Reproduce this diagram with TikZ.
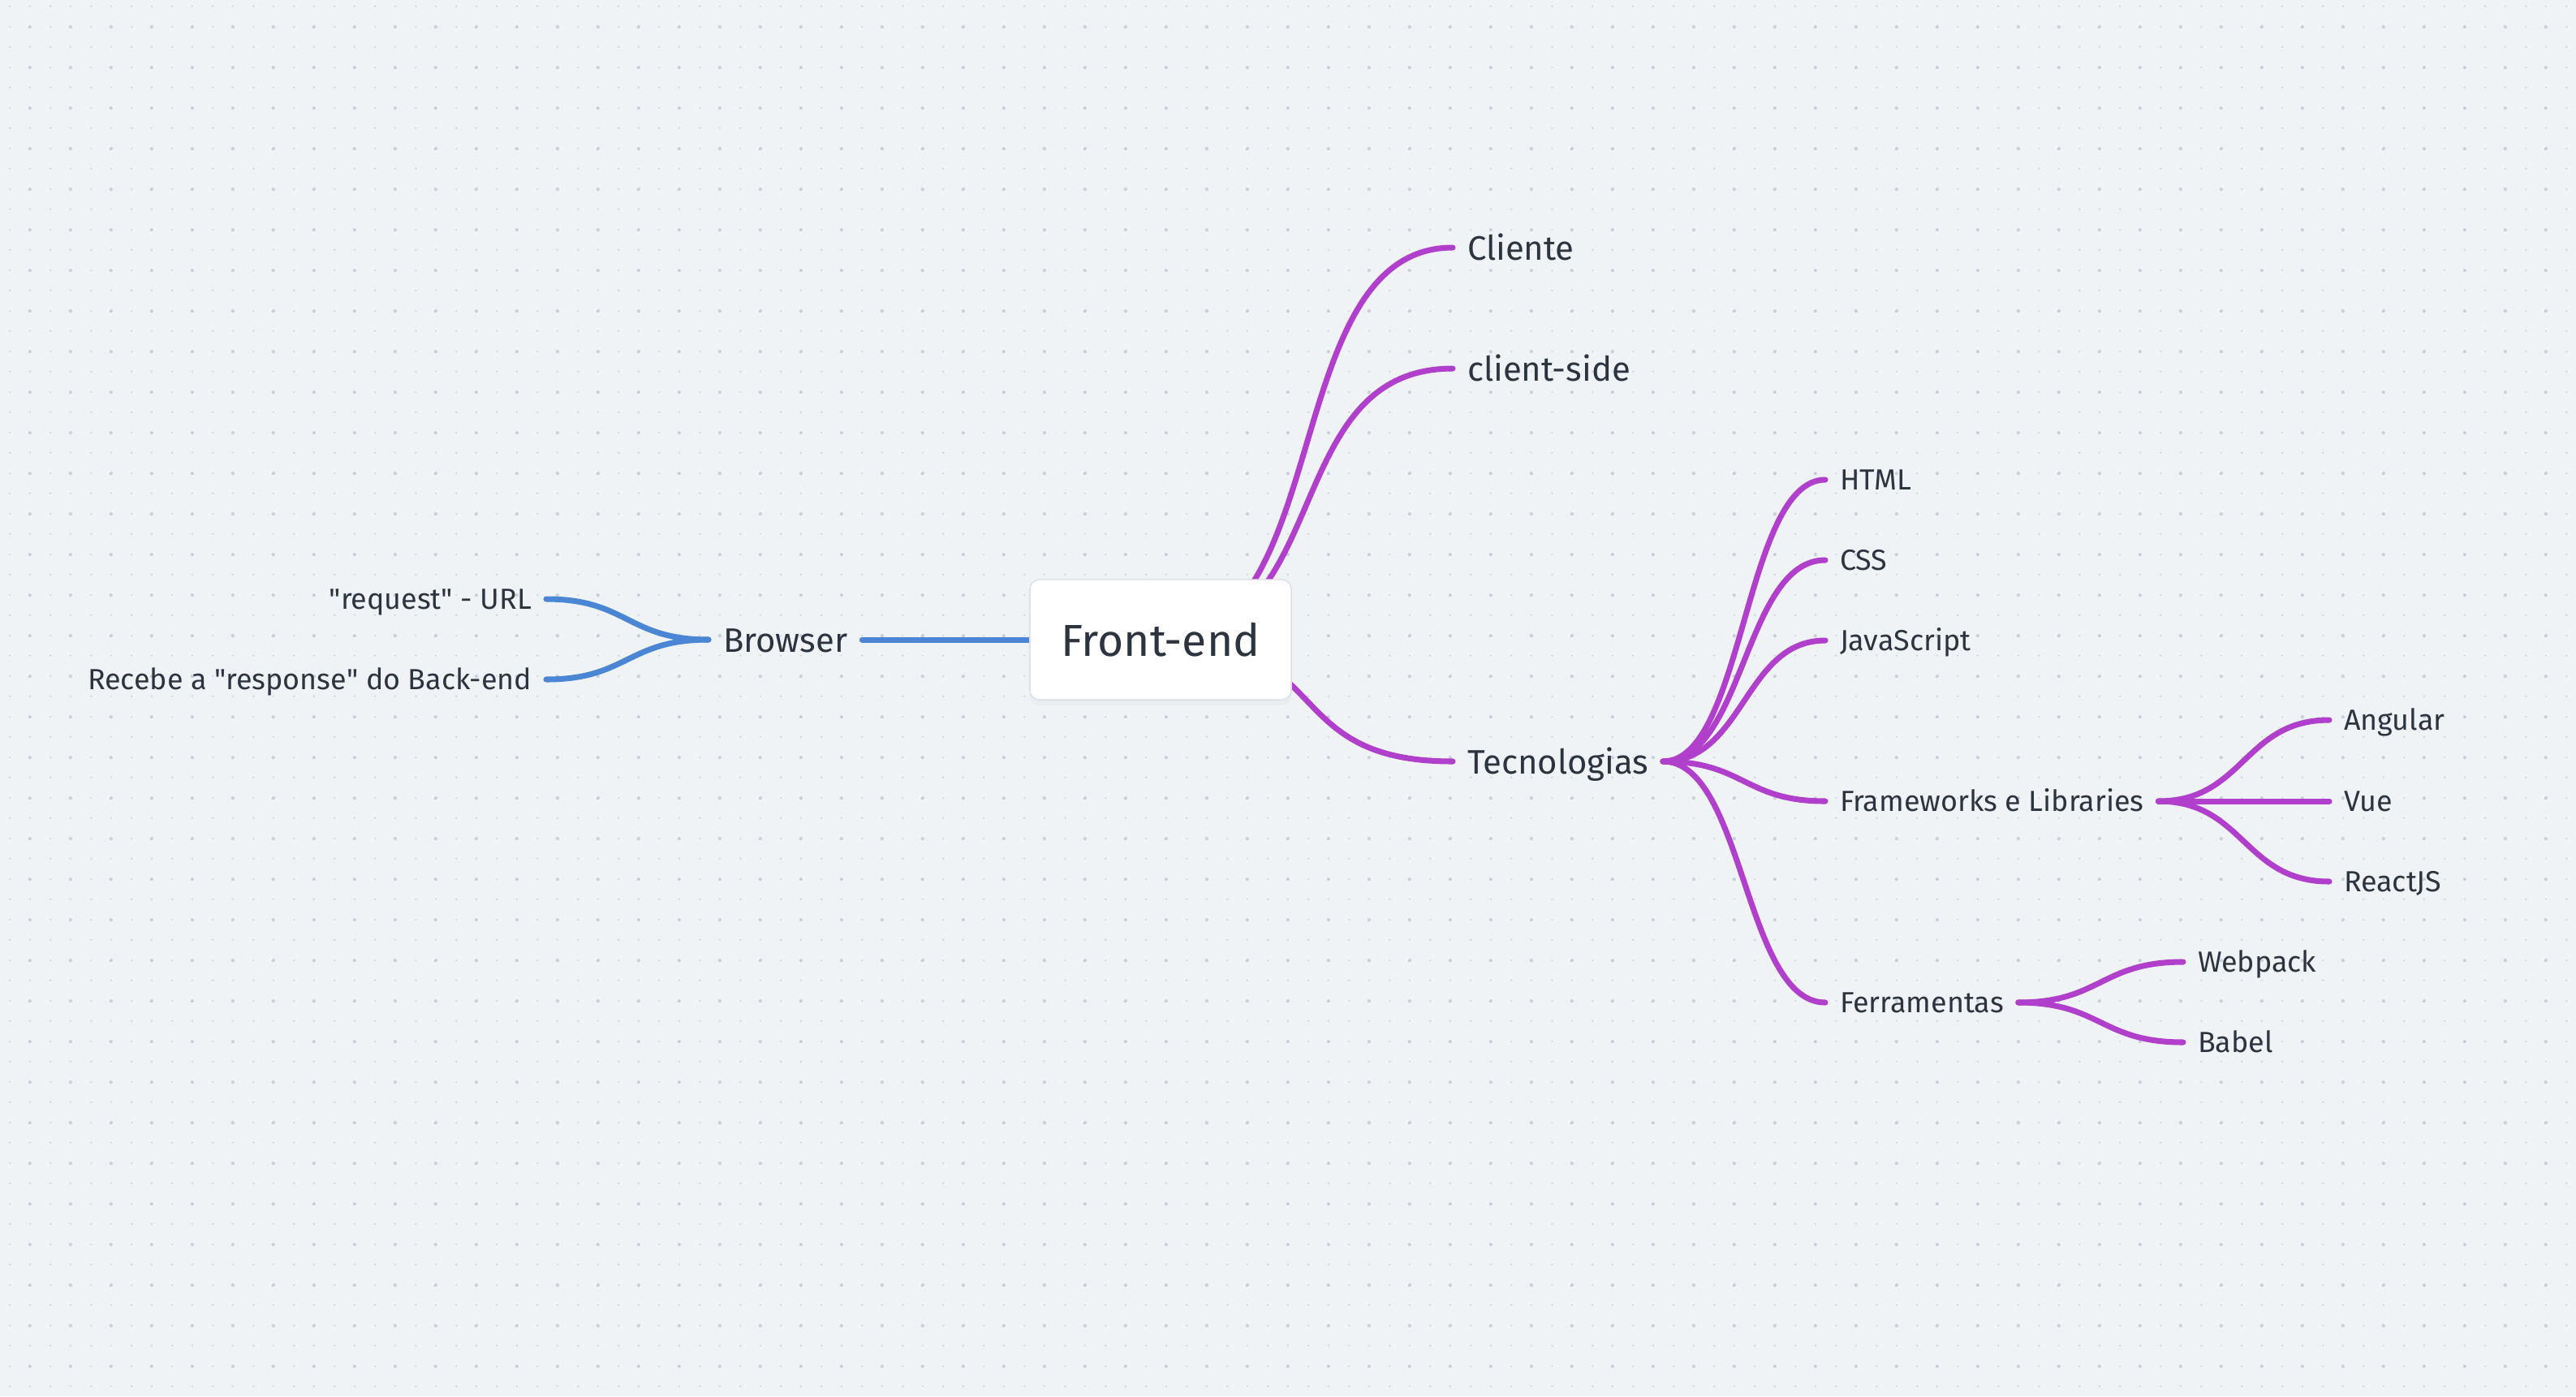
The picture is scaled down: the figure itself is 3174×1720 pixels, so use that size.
\documentclass[tikz,border=0pt]{standalone}
\usepackage{fontspec}
\setmainfont{Fira Sans}
\usetikzlibrary{calc,shadows,patterns}
\definecolor{paper}{RGB}{240,243,246}
\definecolor{dotgray}{RGB}{200,206,218}
\definecolor{ink}{RGB}{44,52,64}
\definecolor{boxline}{RGB}{218,222,229}
\definecolor{branchpurple}{RGB}{176,64,204}
\definecolor{branchblue}{RGB}{74,134,212}

% dotted paper: one big and three small dots per tile
\pgfdeclarepatternformonly{paperdots}{\pgfpointorigin}{\pgfpoint{0.495cm}{0.495cm}}{\pgfpoint{0.495cm}{0.495cm}}{%
	\pgfpathcircle{\pgfpoint{0.12375cm}{0.12375cm}}{0.3pt}
	\pgfpathcircle{\pgfpoint{0.37125cm}{0.12375cm}}{0.3pt}
	\pgfpathcircle{\pgfpoint{0.12375cm}{0.37125cm}}{0.3pt}
	\pgfpathcircle{\pgfpoint{0.37125cm}{0.37125cm}}{0.6pt}
	\pgfusepath{fill}
}

\begin{document}
\begin{tikzpicture}[x=0.01cm,y=-0.01cm]
\tikzstyle{small} = [
	inner sep=0pt,
	outer xsep=0.18cm, %gap between text and line end
	text=ink,
	font=\fontsize{10.2}{12}\selectfont,
	text height=0.25cm,
	text depth=0pt
];
\tikzstyle{medium} = [small, font=\fontsize{11.9}{14}\selectfont, text height=0.30cm];
\tikzstyle{link} = [line width=2pt, line cap=round];
\tikzset{
	branch/.style={to path={let \p1=(\tikztostart), \p2=(\tikztotarget) in
		.. controls ({\x1+#1*(\x2-\x1)},\y1) and ({\x2-#1*(\x2-\x1)},\y2) .. (\tikztotarget)}},
	branch/.default=0.5
}

\fill[paper] (0,0) rectangle (3174,1720);
\fill[pattern=paperdots, pattern color=dotgray] (0,0) rectangle (3174,1720);
\useasboundingbox (0,0) rectangle (3174,1720);

\coordinate (fe) at (1430,788);

\begin{scope}
	\node[medium,anchor=west](Br) at (873,788) {Browser};
	\node[small,anchor=east](Rq) at (673,738) {\textquotedbl request\textquotedbl{} - URL};
	\node[small,anchor=east](Rs) at (673,837) {Recebe a \textquotedbl response\textquotedbl{} do Back-end};
	\node[medium,anchor=west](Cl) at (1790,305) {Cliente};
	\node[medium,anchor=west](Cs) at (1790,454) {client-side};
	\node[medium,anchor=west](Te) at (1790,938) {Tecnologias};
	\node[small,anchor=west](HT) at (2249,591) {HTML};
	\node[small,anchor=west](CS) at (2249,690) {CSS};
	\node[small,anchor=west](JS) at (2249,789) {JavaScript};
	\node[small,anchor=west](FL) at (2249,987) {Frameworks e Libraries};
	\node[small,anchor=west](Fe) at (2249,1235) {Ferramentas};
	\node[small,anchor=west](An) at (2870,887) {Angular};
	\node[small,anchor=west](Vu) at (2870,987) {Vue};
	\node[small,anchor=west](Re) at (2870,1086) {ReactJS};
	\node[small,anchor=west](Wp) at (2690,1185) {Webpack};
	\node[small,anchor=west](Ba) at (2690,1284) {Babel};
\end{scope}

\draw[link,branchblue] (fe) -- (Br.east);
\draw[link,branchblue] (Br.west) to[branch] (Rq.east);
\draw[link,branchblue] (Br.west) to[branch] (Rs.east);

\foreach \c in {Cl,Cs,Te} \draw[link,branchpurple] (fe) to[branch=0.6] (\c.west);
\foreach \c in {HT,CS,JS,FL,Fe} \draw[link,branchpurple] (Te.east) to[branch] (\c.west);
\foreach \c in {An,Vu,Re} \draw[link,branchpurple] (FL.east) to[branch] (\c.west);
\foreach \c in {Wp,Ba} \draw[link,branchpurple] (Fe.east) to[branch] (\c.west);

\node[draw=boxline, fill=white, rounded corners=0.12cm, minimum width=3.22cm, minimum height=1.48cm,
	text=ink, font=\fontsize{15.7}{18}\selectfont,
	drop shadow={opacity=0.05, shadow xshift=0pt, shadow yshift=-2pt}](FE) at (fe) {Front-end};

\end{tikzpicture}
\end{document}
